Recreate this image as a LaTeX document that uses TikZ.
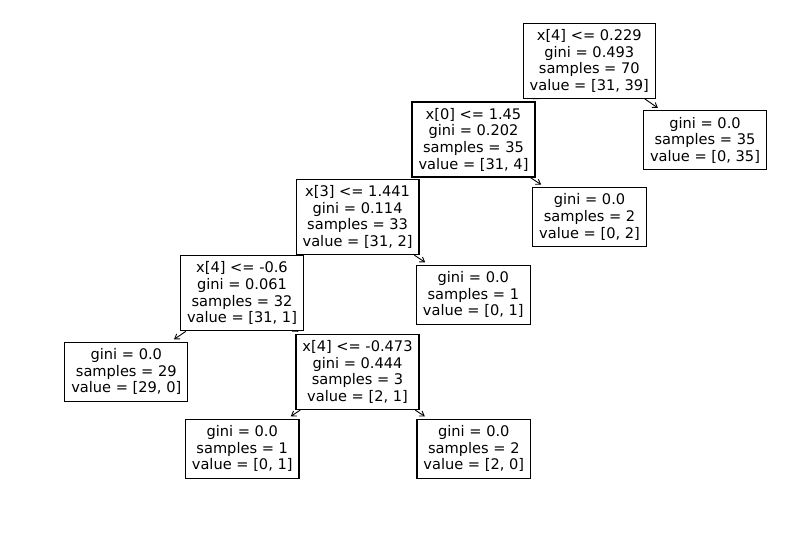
\documentclass[tikz,border=0pt]{standalone}
\usepackage{fontspec}
\newfontfamily\treefont{DejaVu Sans}
\usetikzlibrary{arrows.meta,backgrounds}
\begin{document}
\begin{tikzpicture}[x=1pt,y=-1pt,
  split/.style={draw, line width=1.2pt, fill=white, align=center,
    inner xsep=6.5pt, inner ysep=0pt, minimum height=75pt,
    font=\treefont\fontsize{14.6}{16.7}\selectfont},
  leaf/.style={split, minimum height=59pt},
  edge/.style={line width=0.9pt, shorten >=4pt,
    -{Straight Barb[length=4.5pt,width=6pt]}}]
\useasboundingbox (0,0) rectangle (792,549);

% decision nodes
\node[split] (n0) at (589.3,60.8) {x[4] <= 0.229\\gini = 0.493\\samples = 70\\value = [31, 39]};
\node[split] (n2) at (473.5,139.5) {x[0] <= 1.45\\gini = 0.202\\samples = 35\\value = [31, 4]};
\node[split] (n4) at (357.6,217) {x[3] <= 1.441\\gini = 0.114\\samples = 33\\value = [31, 2]};
\node[split] (n6) at (242,293.3) {x[4] <= -0.6\\gini = 0.061\\samples = 32\\value = [31, 1]};
\node[split] (n8) at (357.5,372) {x[4] <= -0.473\\gini = 0.444\\samples = 3\\value = [2, 1]};

% leaves
\node[leaf] (n1) at (705,140.3) {gini = 0.0\\samples = 35\\value = [0, 35]};
\node[leaf] (n3) at (589.5,217) {gini = 0.0\\samples = 2\\value = [0, 2]};
\node[leaf] (n5) at (473.3,294.7) {gini = 0.0\\samples = 1\\value = [0, 1]};
\node[leaf] (n7) at (126.3,371.7) {gini = 0.0\\samples = 29\\value = [29, 0]};
\node[leaf] (n9) at (242.2,448.7) {gini = 0.0\\samples = 1\\value = [0, 1]};
\node[leaf] (n10) at (473.8,448.7) {gini = 0.0\\samples = 2\\value = [2, 0]};

% connectors, kept underneath the boxes
\begin{scope}[on background layer]
  \draw[edge] (n0) -- (n2);
  \draw[edge] (n0) -- (n1);
  \draw[edge] (n2) -- (n4);
  \draw[edge] (n2) -- (n3);
  \draw[edge] (n4) -- (n6);
  \draw[edge] (n4) -- (n5);
  \draw[edge] (n6) -- (n7);
  \draw[edge] (n6) -- (n8);
  \draw[edge] (n8) -- (n9);
  \draw[edge] (n8) -- (n10);
\end{scope}
\end{tikzpicture}
\end{document}
